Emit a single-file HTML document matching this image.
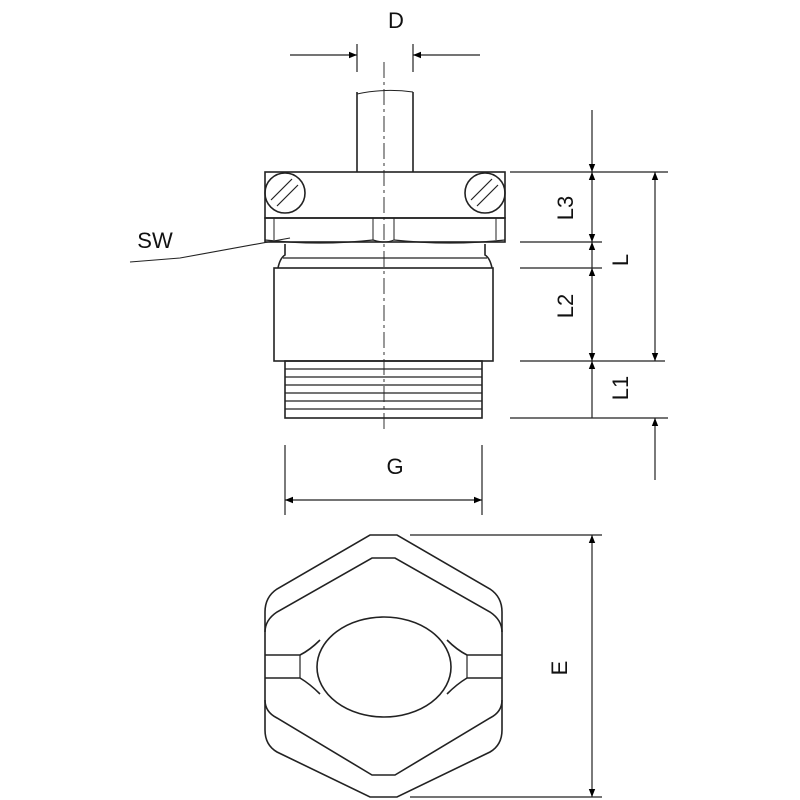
<!DOCTYPE html>
<html><head><style>body{margin:0;background:#fff}svg{display:block}</style></head><body>
<svg width="800" height="800" viewBox="0 0 800 800" xmlns="http://www.w3.org/2000/svg">
<defs>
<marker id="a" viewBox="0 0 10 10" refX="10" refY="5" markerWidth="12" markerHeight="8" orient="auto-start-reverse" markerUnits="userSpaceOnUse"><path d="M0,1 L10,5 L0,9 z" fill="#000"/></marker>
</defs>
<g fill="none" stroke="#222" stroke-width="1.6">
<line x1="384" y1="62" x2="384" y2="432" stroke-dasharray="16,4,3,4" stroke-width="1.2" stroke="#555"/>
<line x1="357" y1="44" x2="357" y2="72" stroke-width="1.2"/>
<line x1="413" y1="44" x2="413" y2="72" stroke-width="1.2"/>
<line x1="290" y1="55" x2="357" y2="55" marker-end="url(#a)" stroke-width="1.2"/>
<line x1="480" y1="55" x2="413" y2="55" marker-end="url(#a)" stroke-width="1.2"/>
<line x1="357" y1="92" x2="357" y2="172"/>
<line x1="413" y1="92" x2="413" y2="172"/>
<path d="M357,94 Q385,88 413,92" stroke-width="1"/>
<rect x="265" y="172" width="240" height="46"/>
<circle cx="285" cy="193" r="20"/>
<circle cx="485" cy="193" r="20"/>
<line x1="271" y1="200" x2="292" y2="179" stroke-width="1.2"/>
<line x1="277" y1="206" x2="298" y2="185" stroke-width="1.2"/>
<line x1="471" y1="200" x2="492" y2="179" stroke-width="1.2"/>
<line x1="477" y1="206" x2="498" y2="185" stroke-width="1.2"/>
<rect x="265" y="218" width="240" height="24"/>
<line x1="274" y1="218" x2="274" y2="240" stroke-width="1"/>
<line x1="496" y1="218" x2="496" y2="240" stroke-width="1"/>
<line x1="373" y1="218" x2="373" y2="240" stroke-width="1"/>
<line x1="394" y1="218" x2="394" y2="240" stroke-width="1"/>
<path d="M265,240 Q320,246 373,240 Q384,244 394,240 Q450,246 505,240" stroke-width="1.2"/>
<path d="M285,244 L285,255 Q280,258 278,268 M485,244 L485,255 Q490,258 492,268"/>
<line x1="283" y1="258" x2="487" y2="258" stroke-width="1.2"/>
<rect x="274" y="268" width="219" height="93"/>
<rect x="285" y="361" width="197" height="57"/>
<g stroke-width="1.2"><line x1="285" y1="369" x2="482" y2="369"/><line x1="285" y1="377" x2="482" y2="377"/><line x1="285" y1="385" x2="482" y2="385"/><line x1="285" y1="393" x2="482" y2="393"/><line x1="285" y1="401" x2="482" y2="401"/><line x1="285" y1="409" x2="482" y2="409"/></g>
<path d="M130,262 L180,258 L290,238" stroke-width="1.1"/>
<g stroke-width="1.2">
<line x1="510" y1="172" x2="668" y2="172"/>
<line x1="520" y1="242" x2="602" y2="242"/>
<line x1="520" y1="268" x2="602" y2="268"/>
<line x1="520" y1="361" x2="665" y2="361"/>
<line x1="510" y1="418" x2="668" y2="418"/>
<line x1="592" y1="110" x2="592" y2="172" marker-end="url(#a)"/>
<line x1="592" y1="172" x2="592" y2="242" marker-start="url(#a)" marker-end="url(#a)"/>
<line x1="592" y1="268" x2="592" y2="242" marker-end="url(#a)"/>
<line x1="592" y1="268" x2="592" y2="361" marker-start="url(#a)" marker-end="url(#a)"/>
<line x1="592" y1="361" x2="592" y2="418" marker-start="url(#a)"/>
<line x1="655" y1="172" x2="655" y2="361" marker-start="url(#a)" marker-end="url(#a)"/>
<line x1="655" y1="480" x2="655" y2="418" marker-end="url(#a)"/>
<line x1="285" y1="445" x2="285" y2="515"/>
<line x1="482" y1="445" x2="482" y2="515"/>
<line x1="285" y1="500" x2="482" y2="500" marker-start="url(#a)" marker-end="url(#a)"/>
<line x1="410" y1="535" x2="602" y2="535"/>
<line x1="410" y1="797" x2="602" y2="797"/>
<line x1="592" y1="535" x2="592" y2="797" marker-start="url(#a)" marker-end="url(#a)"/>
</g>
<path d="M370,535 L397,535 L490,589 Q502,597 502,612 L502,730 Q502,745 490,752 L397,797 L370,797 L277,752 Q265,745 265,730 L265,612 Q265,597 277,589 Z"/>
<path d="M265,632 Q265,620 277,612 L372,558 L395,558 L490,612 Q502,620 502,632"/>
<path d="M265,700 Q265,712 277,718 L372,775 L395,775 L490,718 Q502,712 502,700"/>
<ellipse cx="384" cy="667" rx="67" ry="50"/>
<path d="M265,655 L300,655 Q310,650 320,640 M265,678 L300,678 Q310,684 320,694"/>
<path d="M502,655 L467,655 Q457,650 447,640 M502,678 L467,678 Q457,684 447,694"/>
<line x1="300" y1="655" x2="300" y2="678" stroke-width="1.2"/>
<line x1="467" y1="655" x2="467" y2="678" stroke-width="1.2"/>
</g>
<g font-family="Liberation Sans, sans-serif" font-size="22" fill="#111">
<text x="396" y="28" text-anchor="middle">D</text>
<text x="155" y="248" text-anchor="middle">SW</text>
<text x="395" y="474" text-anchor="middle">G</text>
<text transform="translate(573,208) rotate(-90)" text-anchor="middle">L3</text>
<text transform="translate(628,260) rotate(-90)" text-anchor="middle">L</text>
<text transform="translate(573,306) rotate(-90)" text-anchor="middle">L2</text>
<text transform="translate(628,388) rotate(-90)" text-anchor="middle">L1</text>
<text transform="translate(567,668) rotate(-90)" text-anchor="middle">E</text>
</g>
</svg>
</body></html>
